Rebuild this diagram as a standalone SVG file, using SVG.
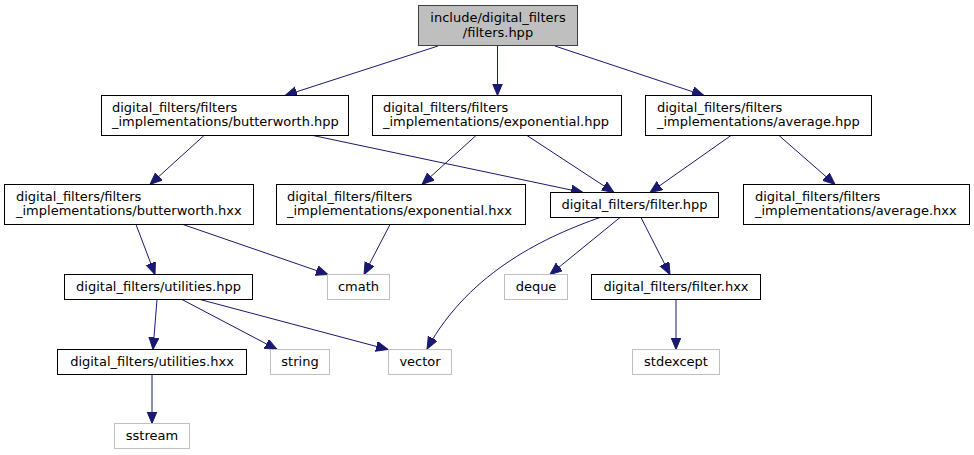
<svg xmlns="http://www.w3.org/2000/svg" width="974" height="455" viewBox="0 0 974 455">
<style>
text{font-family:"DejaVu Sans",Verdana,sans-serif;font-size:13px;fill:#000}
.n rect{fill:#fff;stroke:#000;stroke-width:1}
.ext rect{fill:#fff;stroke:#bfbfbf;stroke-width:1}
.root rect{fill:#bfbfbf;stroke:#404040;stroke-width:1}
.c{text-anchor:middle}
#edges path{fill:none;stroke:#191970;stroke-width:1;marker-end:url(#ah)}
</style>
<defs>
<marker id="ah" markerUnits="userSpaceOnUse" markerWidth="13" markerHeight="11" refX="12" refY="5" orient="auto">
<path d="M0,0 L12,5 L0,10 z" fill="#191970" stroke="#191970" stroke-width="1"/>
</marker>
</defs>
<rect x="0" y="0" width="974" height="455" fill="#fff"/>
<g id="edges">
<path d="M438,46 L285,95.5"/>
<path d="M497.5,46 L497.5,95.5"/>
<path d="M555,46 L704,95.5"/>
<path d="M204,135.5 L150,184.5"/>
<path d="M313,135.5 L583,192.5"/>
<path d="M476,135.5 L422,184.5"/>
<path d="M527,135.5 L614,192.5"/>
<path d="M731,135.5 L650,192.5"/>
<path d="M779,135.5 L835,184.5"/>
<path d="M136,224.5 L155,274.5"/>
<path d="M183,224.5 L328,274.5"/>
<path d="M390,224.5 L364,274.5"/>
<path d="M600,217.5 C550,235 470,270 427,349"/>
<path d="M620,217.5 L550,274.5"/>
<path d="M641,217.5 L670,274.5"/>
<path d="M676,299.5 L676,349.5"/>
<path d="M157,299.5 L153,349.5"/>
<path d="M182,299.5 L277,349.5"/>
<path d="M200,299.5 L388,349.5"/>
<path d="M152,374.5 L152,423.5"/>
</g>
<g id="root" class="root"><rect x="418.5" y="5.5" width="159" height="40"/><text class="c" x="498" y="21.5">include/digital_filters</text><text class="c" x="498" y="36.5">/filters.hpp</text></g>
<g id="butterworth_hpp" class="n"><rect x="101.5" y="95.5" width="247" height="40"/><text x="112" y="111.5">digital_filters/filters</text><text x="112" y="126">_implementations/butterworth.hpp</text></g>
<g id="exponential_hpp" class="n"><rect x="372.5" y="95.5" width="249" height="40"/><text x="383" y="111.5">digital_filters/filters</text><text x="383" y="126">_implementations/exponential.hpp</text></g>
<g id="average_hpp" class="n"><rect x="645.5" y="95.5" width="226" height="40"/><text x="657" y="111.5">digital_filters/filters</text><text x="657" y="126">_implementations/average.hpp</text></g>
<g id="butterworth_hxx" class="n"><rect x="4.5" y="184.5" width="249" height="40"/><text x="16" y="200.5">digital_filters/filters</text><text x="16" y="215">_implementations/butterworth.hxx</text></g>
<g id="exponential_hxx" class="n"><rect x="276.5" y="184.5" width="249" height="40"/><text x="287" y="200.5">digital_filters/filters</text><text x="287" y="215">_implementations/exponential.hxx</text></g>
<g id="filter_hpp" class="n"><rect x="550.5" y="192.5" width="168" height="25"/><text class="c" x="634.5" y="208.5">digital_filters/filter.hpp</text></g>
<g id="average_hxx" class="n"><rect x="743.5" y="184.5" width="226" height="40"/><text x="755" y="200.5">digital_filters/filters</text><text x="755" y="215">_implementations/average.hxx</text></g>
<g id="utilities_hpp" class="n"><rect x="64.5" y="274.5" width="188" height="25"/><text class="c" x="158.5" y="290.5">digital_filters/utilities.hpp</text></g>
<g id="cmath" class="ext"><rect x="327.5" y="274.5" width="62" height="25"/><text class="c" x="358.5" y="290.5">cmath</text></g>
<g id="deque" class="ext"><rect x="504.5" y="274.5" width="63" height="25"/><text class="c" x="536" y="290.5">deque</text></g>
<g id="filter_hxx" class="n"><rect x="591.5" y="274.5" width="169" height="25"/><text class="c" x="676" y="290.5">digital_filters/filter.hxx</text></g>
<g id="utilities_hxx" class="n"><rect x="57.5" y="349.5" width="189" height="25"/><text class="c" x="152" y="365.5">digital_filters/utilities.hxx</text></g>
<g id="string" class="ext"><rect x="270.5" y="349.5" width="59" height="25"/><text class="c" x="300" y="365.5">string</text></g>
<g id="vector" class="ext"><rect x="388.5" y="349.5" width="63" height="25"/><text class="c" x="420" y="365.5">vector</text></g>
<g id="stdexcept" class="ext"><rect x="632.5" y="349.5" width="87" height="25"/><text class="c" x="676" y="365.5">stdexcept</text></g>
<g id="sstream" class="ext"><rect x="114.5" y="423.5" width="75" height="25"/><text class="c" x="152" y="439.5">sstream</text></g>
</svg>
